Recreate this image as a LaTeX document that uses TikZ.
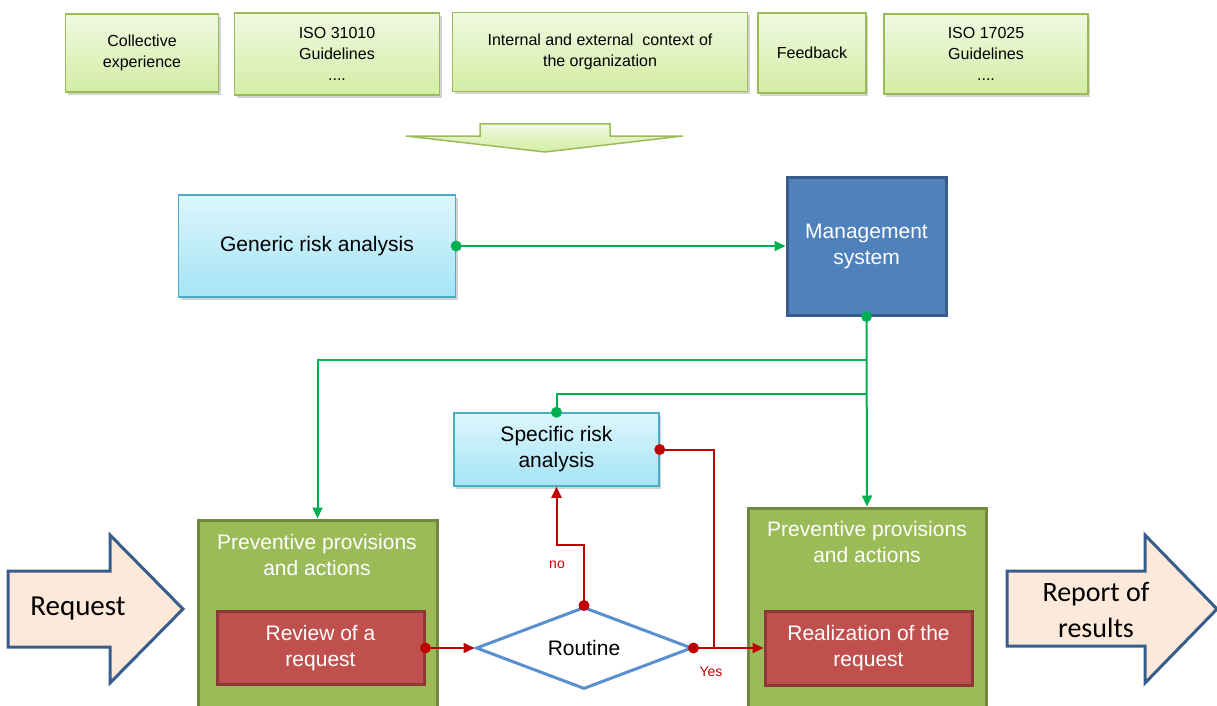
\documentclass[tikz,border=0pt]{standalone}
\usepackage{fontspec}
\setmainfont{Liberation Sans}
\newfontfamily\calibri{Carlito}
\usetikzlibrary{arrows.meta,shadows,shapes.geometric}

\definecolor{srcline}{HTML}{9BBB59}
\definecolor{srctop}{HTML}{F0F9E1}
\definecolor{srcbot}{HTML}{D3EDA4}
\definecolor{cyline}{HTML}{4BACC6}
\definecolor{cytop}{HTML}{DDF6FC}
\definecolor{cybot}{HTML}{A4E4F7}
\definecolor{mgfill}{HTML}{4F81BD}
\definecolor{mgline}{HTML}{385D8A}
\definecolor{ppfill}{HTML}{9BBB59}
\definecolor{ppline}{HTML}{71893F}
\definecolor{rdfill}{HTML}{C0504D}
\definecolor{rdline}{HTML}{8C3836}
\definecolor{dmline}{HTML}{5B8FCF}
\definecolor{gconn}{HTML}{00B050}
\definecolor{rconn}{HTML}{C00000}
\definecolor{bigfill}{HTML}{FDE9D9}

\tikzset{
  srcbox/.style={draw=srcline,line width=1.5pt,top color=srctop,bottom color=srcbot,
    drop shadow={opacity=0.35,shadow xshift=2pt,shadow yshift=-3pt},
    align=center,inner sep=0pt,font=\fontsize{16}{21}\selectfont},
  riskbox/.style={draw=cyline,line width=1.5pt,top color=cytop,bottom color=cybot,
    drop shadow={opacity=0.35,shadow xshift=2pt,shadow yshift=-3pt},
    align=center,inner sep=0pt,font=\fontsize{21}{26}\selectfont},
  mgmtbox/.style={draw=mgline,line width=3pt,fill=mgfill,text=white,
    align=center,inner sep=0pt,font=\fontsize{21}{26}\selectfont},
  provbox/.style={draw=ppline,line width=3pt,fill=ppfill,inner sep=0pt},
  provtext/.style={text=white,align=center,font=\fontsize{21}{26}\selectfont},
  actbox/.style={draw=rdline,line width=3pt,fill=rdfill,text=white,
    align=center,inner sep=0pt,font=\fontsize{21}{26}\selectfont},
  bigarrow/.style={draw=mgline,line width=3pt,fill=bigfill,line join=miter},
  gline/.style={draw=gconn,line width=2pt},
  rline/.style={draw=rconn,line width=2pt},
  tip/.style={-{Triangle[length=11pt,width=10pt]}},
  lbl/.style={text=rconn,font=\fontsize{14}{16}\selectfont}
}

\begin{document}
\begin{tikzpicture}[x=1pt,y=-1pt]
	\clip (0,0) rectangle (1217,706);
	% inputs
	\node[srcbox,minimum width=153,minimum height=78] (coll) at (142,53) {Collective\\experience};
	\node[srcbox,minimum width=205,minimum height=82] (iso1) at (337,54) {ISO 31010\\Guidelines\\....};
	\node[srcbox,minimum width=295,minimum height=79] (ctx) at (600,52) {Internal and external\hspace{9pt}context\hspace{5pt}of\\the organization};
	\node[srcbox,minimum width=108,minimum height=80] (fb) at (812,53) {Feedback};
	\node[srcbox,minimum width=204,minimum height=80] (iso2) at (986,54) {ISO 17025\\Guidelines\\....};
	\draw[srcline,line width=1.5pt,top color=srctop,bottom color=srcbot,line join=miter]
		(480,124) -- (610,124) -- (610,136) -- (683,136) -- (545,152) -- (406,136) -- (480,136) -- cycle;
	% risk analysis and management
	\node[riskbox,minimum width=277,minimum height=102] (genr) at (317,246) {Generic risk analysis};
	\node[mgmtbox,minimum width=159,minimum height=138] (mgmt) at (866.5,246) {Management\\system};
	\node[riskbox,minimum width=205,minimum height=73] (spec) at (556.5,449.5) {Specific risk\\analysis};
	% provisions
	\node[provbox,minimum width=239,minimum height=192] (provA) at (317.5,616) {};
	\node[provtext] (provAtxt) at (317,555) {Preventive provisions\\and actions};
	\node[actbox,minimum width=207,minimum height=73] (rev) at (320.5,648) {Review of a\\request};
	\node[provbox,minimum width=238,minimum height=204] (provB) at (867,610) {};
	\node[provtext] (provBtxt) at (867,542) {Preventive provisions\\and actions};
	\node[actbox,minimum width=207,minimum height=74] (real) at (868.5,648) {Realization of the\\request};
	\node[draw=dmline,line width=3pt,fill=white,diamond,aspect=2.63,minimum width=216,minimum height=82,
		inner sep=0pt,font=\fontsize{21}{26}\selectfont] (rout) at (584,648) {Routine};
	% in and out
	\draw[bigarrow] (8,571) -- (110,571) -- (110,535) -- (183,609) -- (110,683) -- (110,647) -- (8,647) -- cycle;
	\node[font=\calibri\fontsize{29}{36}\selectfont] (req) at (78,609) {Request};
	\draw[bigarrow] (1007,571) -- (1145,571) -- (1145,535) -- (1217,609) -- (1145,683) -- (1145,646) -- (1007,646) -- cycle;
	\node[font=\calibri\fontsize{28}{36}\selectfont,align=center] (rep) at (1096,610) {Report of\\results};
	% green links
	\draw[gline,tip] (genr.east) -- (mgmt.west);
	\path (mgmt.south) ++(0,43) coordinate (j1) ++(0,34) coordinate (j2);
	\draw[gline,tip] (mgmt.south) -- (provB.north);
	\draw[gline,tip] (j1) -| (provA.north);
	\draw[gline] (j2) -| (spec.north);
	\fill[gconn] (genr.east) circle (5.5);
	\fill[gconn] (mgmt.south) circle (5.5);
	\fill[gconn] (spec.north) circle (5.5);
	% red links
	\draw[rline,tip] (rev.east) -- (rout.west);
	\path (rout.north) ++(0,-61) coordinate (n1);
	\draw[rline,tip] (rout.north) -- (n1) -| (spec.south);
	\path (rout.east) ++(20,0) coordinate (yj);
	\draw[rline] (spec.east) -| (yj);
	\draw[rline,tip] (rout.east) -- (real.west);
	\fill[rconn] (rev.east) circle (5.5);
	\fill[rconn] (rout.north) circle (5.5);
	\fill[rconn] (rout.east) circle (5.5);
	\fill[rconn] (spec.east) circle (5.5);
	\node[lbl] (no) at (557,565) {no};
	\node[lbl] (yes) at (711,672) {Yes};
\end{tikzpicture}
\end{document}
